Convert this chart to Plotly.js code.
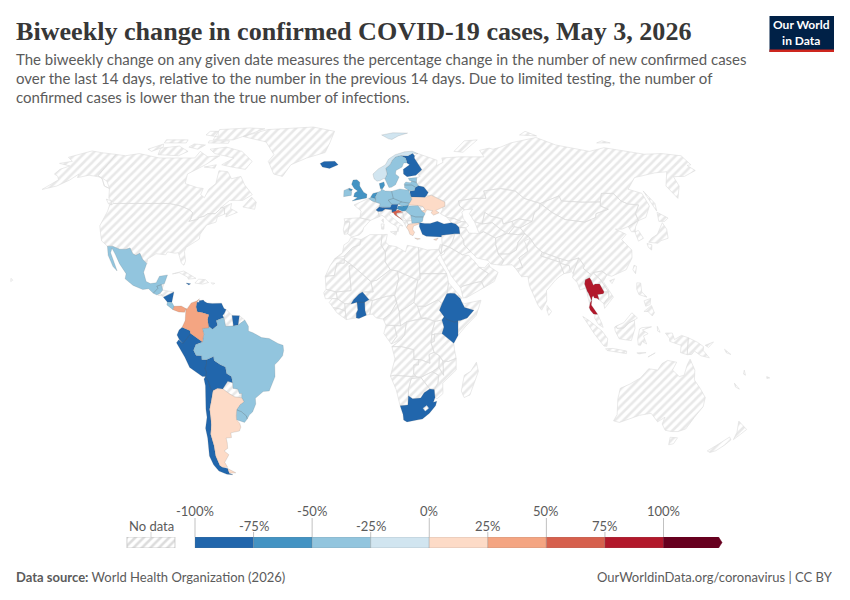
<!DOCTYPE html>
<html><head><meta charset="utf-8"><script src="https://cdn.plot.ly/plotly-3.0.1.min.js"></script>
<style>html,body{margin:0;background:#fff}#c{width:850px;height:600px}</style></head><body><div id="c"></div><script>
// Country outlines: lon,lat pairs
const brazil=[-51.6,4.2,-50,1.8,-50,0,-48,-0.7,-44.3,-2.5,-41,-2.9,-37.2,-4.8,-35,-5.5,-34.8,-7.5,-35.3,-9.5,-37.2,-11.5,-38.9,-13,-39,-17.5,-40.8,-21,-42,-23,-44.7,-23.2,-48.5,-25.8,-48.6,-28,-50.5,-31,-52.2,-32.2,-53.4,-33.7,-53.6,-32.5,-55.6,-30.9,-57.6,-30.2,-55.8,-28.3,-53.8,-27.1,-54.6,-25.6,-54.3,-24,-55.4,-24,-55.9,-22.3,-58,-22,-57.9,-19.9,-58.2,-17.5,-60.2,-16.3,-60.5,-13.8,-62.8,-12.9,-65.3,-11.3,-65.4,-9.8,-68.6,-11,-70.6,-11,-70.6,-9.5,-73,-9.4,-74,-7.4,-72.9,-5.2,-70,-4.3,-69.4,-1.2,-70,1,-67,1.7,-65.5,0.7,-63.4,2.2,-64,4,-60.7,5.2,-59.9,1.8,-56.5,1.9,-54.5,2.3];
const colombia=[-71.7,12.4,-72.9,11.5,-75.2,10.8,-76.9,8.5,-77.4,8.6,-77.3,6.5,-77.5,4,-78.8,1.4,-75.3,0.1,-75.2,-0.9,-73,-2.3,-70,-4.2,-69.4,-1.2,-70,1,-67.2,1.2,-67.8,4.5,-67.3,6.2,-70,7,-72.4,7.4,-73,9.2,-72.8,11];
const venezuela=[-71.7,11,-71.9,11.6,-70,11.9,-69.6,11.4,-68.3,10.8,-66,10.6,-62,10.7,-60.8,8.6,-59.9,8.3,-60.5,6.9,-61.3,5.9,-60.7,5.2,-64,4,-63.4,2.2,-65.5,0.7,-67.2,1.2,-67.8,4.5,-67.3,6.2,-70,7,-72.4,7.4,-73,9.2,-72.8,11];
const ecuador=[-75.3,0.1,-78.8,1.4,-80.1,0.4,-81,-1.5,-80,-3.4,-78.5,-4.8,-75.6,-1.6,-75.2,-0.9];
const peru=[-75.2,-0.9,-75.6,-1.6,-78.5,-4.8,-80.3,-3.4,-81.3,-4.5,-79.7,-7,-78,-10,-76.2,-14,-71,-17.5,-69.6,-17.5,-69,-16,-69.5,-14.5,-68.7,-12.5,-68.6,-11,-70.6,-11,-70.6,-9.5,-73,-9.4,-74,-7.4,-72.9,-5.2,-70,-4.2,-73,-2.3];
const bolivia=[-69.6,-17.5,-69,-16,-69.5,-14.5,-68.7,-12.5,-68.6,-11,-65.4,-9.8,-65.3,-11.3,-62.8,-12.9,-60.5,-13.8,-60.2,-16.3,-58.2,-17.5,-57.9,-19.9,-60,-19.3,-62.6,-22.2,-65,-22.1,-67,-22.9,-68,-22,-68.6,-19.3];
const chile=[-69.6,-17.5,-70.4,-18.4,-70.1,-21,-70.6,-25,-71.5,-30,-71.7,-33,-73.5,-37.2,-73.7,-41,-74.5,-45,-75.5,-48,-75,-51.5,-73.5,-54,-70,-55.3,-67,-55.5,-68.6,-54.9,-68.6,-53,-71,-52.5,-72,-51.8,-72.4,-48,-71.7,-44,-71.8,-39.5,-70.5,-36,-70,-33,-69.8,-30,-68.5,-27,-67,-22.9,-68,-22,-68.6,-19.3];
const argentina=[-65,-22.1,-62.6,-22.2,-60,-24,-57.6,-25.3,-54.6,-25.6,-53.8,-27.1,-55.8,-28.3,-57.6,-30.2,-58.2,-32.5,-58.4,-34,-57.2,-35.3,-57,-36.8,-58,-38.3,-62.2,-39,-62.4,-40.8,-65,-41,-65,-42.8,-65.5,-45,-67.5,-46,-65.8,-47.5,-69,-50.5,-68.4,-52.5,-71,-52.5,-72,-51.8,-72.4,-48,-71.7,-44,-71.8,-39.5,-70.5,-36,-70,-33,-69.8,-30,-68.5,-27,-67,-22.9];
const fuego=[-68.6,-53,-65.2,-54.7,-68.6,-54.9];
const uruguay=[-57.6,-30.2,-55.6,-30.9,-53.6,-32.5,-53.4,-33.7,-54.9,-35,-58.4,-34,-58.2,-32.5];
const suriname=[-57.2,6,-54,5.9,-54.5,2.3,-56.5,1.9];
const mexico=[-117.1,32.5,-114.8,32.5,-111,31.3,-108.2,31.3,-106.5,31.8,-104.5,29.6,-103,29,-101.4,29.8,-99.5,27.5,-97.2,25.9,-97.8,22.5,-96,19,-94,18.2,-91.5,18.5,-90.5,21,-87,21.5,-87.8,18.2,-89.1,17.9,-91,17.2,-90.4,16.4,-92.2,14.5,-94.5,16.2,-97,15.9,-101.5,17.5,-105.5,20,-105.5,22,-109.4,25.8,-112.5,29.5,-114.7,31.7,-114.7,30,-109.7,23,-112,24.7,-115.5,29];
const guatemala=[-92.2,14.5,-90.4,16.4,-91,17.2,-89.1,17.8,-88.2,15.7,-89.2,14.5,-90.5,13.8];
const nicaragua=[-87.6,13,-83.2,15,-83.7,11,-85.7,11.1];
const costaRica=[-85.7,11.1,-83.7,11,-82.6,9.5,-83,8.2,-85.8,10];
const panama=[-83,8.2,-82.6,9.5,-79.5,9.6,-77.4,8.6,-77.9,7.2,-80.4,7.3];
const jamaica=[-78.3,18.4,-76.2,18.1,-77,17.7];
const germany=[7.2,53.5,8.8,54,9,54.9,11,54,14.2,53.9,14.8,51,12.2,50.3,13.8,48.7,13,47.5,7.6,47.6,8.2,48.9,6,49.5,6,51.8];
const denmark=[8.1,57,10.6,57.7,10.9,56.3,9.7,54.9,8.6,54.9];
const netherlands=[3.4,51.4,4.7,53,7.2,53.5,6,51.8,6,50.8,4.2,51.4];
const belgium=[2.5,51,4.2,51.4,6,50.8,5.8,49.5,4.2,50];
const poland=[14.2,53.9,18.5,54.8,23,54.3,24,50.6,22.8,49.1,19,49.5,14.8,51];
const czechia=[12.2,50.3,14.8,51,18.8,49.6,17,48.7,13.8,48.7];
const slovakia=[17,48.7,18.8,49.6,22.5,49.1,22.1,48.4,18.8,47.9];
const austria=[9.6,47.4,13,47.5,13.8,48.7,17,48.7,16.2,46.9,13.7,46.5,10.5,46.8];
const switzerland=[6,46.4,7.6,47.6,9.6,47.4,10.5,46.8,9,45.9,7,45.8];
const slovenia=[13.7,46.5,16.2,46.9,15.5,45.6,13.7,45.5];
const hungary=[16.2,46.9,17,48,18.8,47.9,22.1,48.4,21,46.2,18.8,45.9];
const croatia=[13.7,45.5,15.5,46,16.8,46.4,19,45.5,16,45.2,15.8,44.5,18.5,42.5,15,44.5,14.5,45.2];
const romania=[20.3,46.1,22.1,48,26.6,48.2,28.2,46,29.7,45,28.6,43.7,25,43.7,22.7,44.3];
const bulgaria=[22.7,44.3,25,43.7,28.6,43.7,28,42,26.3,41.3,22.9,41.3];
const greece=[20.2,39.6,21,40.8,26.3,41.5,26,40.9,23.5,40.2,23,38.8,23.8,37.8,22.9,36.5,21.5,37,21,38.5];
const crete=[23.6,35.6,26.2,35.3,24.8,35];
const ukraine=[22.1,48.4,22.8,49.1,24,50.6,24,51.6,30.5,51.4,34,52.3,40.1,49.6,39.8,47.9,35,46.2,36.5,45.3,33.6,44.4,32.5,45.4,33.5,46.1,30.7,46.5,29.7,45.3,28.2,46,30,46.4,29,47.8,26.6,48.2];
const belarus=[23.5,53.9,25.8,54.2,26.6,55.5,28.2,56.1,30.9,55.6,32.7,53.4,31.5,52.1,30.5,51.4,24,51.6,23.5,52];
const lithuania=[21,55.3,21.1,56.4,25,56.4,26.6,55.5,25.8,54.2,23.5,54];
const latvia=[21,56.8,22,57.7,24.4,57.3,25,58,27.5,57.5,28.2,56.1,26.6,55.5,25,56.4,21.1,56.4];
const estonia=[23.5,59.2,28,59.5,27.5,57.5,25,58,24,58.3];
const finland=[21,69.1,25,68.9,28,70.1,28.9,69,28.5,68,30,65.5,31.5,62.8,27.8,60.5,23,59.9,21.3,61,21.5,63,25.3,65,24,65.8,23.7,67.9];
const sweden=[11.2,59,13,55.4,14.3,55.5,16.5,56.5,18.8,59.8,17,61,17.5,62.5,21,64,22.2,65.8,24,65.8,23.7,67.9,21,69.1,18,68.5,16,67,14.5,65,12,63.5,12.5,61];
const norway=[5,61,5.5,59,7,58,8.5,58.2,10.8,59.2,11.2,59,12.5,61,12,63.5,14.5,65,16,67,18,68.5,21,69.1,25,68.9,28,70.1,31,70,28,71.1,23.5,70.8,18,69.5,14,67.5,12,65,8,63.2];
const svalbard=[11,79,15,77,17,76.7,21,78.5,27,80,18,80.2];
const iceland=[-24,65.5,-22,66.4,-16,66.5,-14,65,-18.5,63.4,-22.5,64];
const britain=[-5.7,50,1.5,51.2,1.7,52.7,0,53.5,-2,56,-2,57.6,-3.5,58.6,-5.5,58.5,-6.2,56.7,-4.8,55,-3,54,-4.5,53.2,-5,51.7,-3,51.4];
const ulster=[-7.4,55.1,-5.6,54.6,-6.2,54,-7.8,54.3];
const ireland=[-10,51.7,-6.2,52.2,-6,53.8,-7.8,54.3,-7.4,55.1,-10,54.2];
const cyprus=[32.3,35,34.5,35.6,33.5,34.7];
const turkey=[26.2,40,26.5,41.5,29,41.2,31.5,41.2,35,42,38,41,41.5,41.5,43.5,41,44.8,39.7,44.8,37.2,42.4,37.2,38,36.8,36.2,36.7,36,36,32,36.1,29,36.3,27.3,37];
const ghana=[-3.2,5,-2,4.8,1.2,6.1,0.6,8,0.5,11,-2.9,11,-2.5,8.1,-3.2,6.8];
const burkina=[-5.5,10.4,-4.4,12,-2,14.2,-0.5,15,2.4,12,0.9,11,0.5,11,-2.9,11];
const ethiopia=[33,8,34.2,10.5,36.5,14.3,38,14.5,40,14.4,42.3,12.5,42.9,11,44,9,48,8,45,5,42,4,41,3.9,39.5,3.4,36,4.5,35,5.5];
const kenya=[34,4.2,35,5.5,36,4.5,39.5,3.4,41,3.9,41,-1.7,39.2,-4.7,37.7,-3.6,34,-1,34.9,1.5];
const southAfrica=[16.5,-28.6,20,-28.4,20,-24.8,22,-26,25.6,-25.7,27,-23.7,29.4,-22.2,31.4,-22.4,32,-25.5,31.4,-27.3,32.9,-26.9,32.5,-28.6,30,-31.5,27,-33.7,25,-34,20,-34.8,18.4,-34.1,18,-32];
const thailand=[98,19.7,100,20.4,100.6,19.5,101.2,17.6,102,18,104,18,105.5,15,105,14.3,102.5,14,102.9,12,102,12.6,100.9,12.7,100.5,13.5,100,13,99.3,10,100.4,8.5,101.8,6.4,100.7,6.4,100,6.5,98.7,8,98.3,9,99,11,99.6,11.7,98.6,14.5,98.2,15.1,97.4,18];

// No-data outlines
const paraguay=[-57.9,-19.9,-58,-22,-55.9,-22.3,-55.4,-24,-54.3,-24,-54.6,-25.6,-57.6,-25.3,-60,-24,-62.6,-22.2,-60,-19.3];
const guyana=[-60.7,5.2,-60.5,6.9,-59.9,8.3,-57.2,6,-56.5,1.9,-59.9,1.8];
const frGuiana=[-54,5.9,-51.6,4.2,-54.5,2.3];
const belize=[-89.1,17.9,-88,18.4,-88.5,16,-89.1,16];
const honduras=[-88.2,15.7,-83.2,15,-84.7,14.5,-87.6,13,-89.2,14.5];
const elSalvador=[-89.2,14.4,-87.7,13.5,-90,13.7];
const cuba=[-84.9,21.9,-80,23,-74.2,20.2,-77.5,19.9,-78,20.7,-82,22.4];
const hispaniola=[-74.4,18.4,-73,19.9,-69.9,19.7,-68.4,18.6,-71,18];
const puertoRico=[-67.2,18.5,-65.6,18.3,-66.5,17.9];
const usa=[-124.7,48.4,-123,49,-95.2,49,-94.6,48.7,-89.6,48,-84.5,46.5,-82.5,45.3,-82.4,43,-83,42,-79,42.8,-79,43.4,-76.5,44,-75,45,-71.5,45,-69.2,47.4,-67.8,47.1,-67,44.8,-70,43.7,-70,41.7,-74,40.6,-75.5,38,-76,37,-75.8,35.2,-78,33.9,-81,32,-81.4,30.5,-80,26.8,-80.4,25.2,-81.7,26,-82.8,28,-84,30,-85.5,29.8,-89,30.3,-89.5,29.2,-94,29.6,-97.2,27.6,-97.2,25.9,-99.5,27.5,-101.4,29.8,-103,29,-104.5,29.6,-106.5,31.8,-108.2,31.3,-111,31.3,-114.8,32.5,-117.1,32.5,-120.6,34.5,-122.5,37.5,-124.3,40.3,-124,46];
const alaska=[-141,69.6,-141,60.3,-137.5,59,-133.5,56,-130,55,-134,58,-139,59.7,-146,60.5,-151,59.5,-152,60.9,-154,58.5,-158,56,-164,54.6,-160,58.6,-162,60,-165,61,-164.5,63,-161,64.5,-168,65.6,-162,66.5,-166.5,68.3,-156.5,71.2,-150,70.4];
const hawaii=[-156,20.2,-155,19.5,-155.8,19];
const canada=[-141,69.6,-135,69,-128,70,-115,68,-108,68,-95,68,-94,71,-88,68.5,-81.5,69,-87,65,-94,61,-92.5,57,-85,55.3,-82,55,-82,52.5,-79.5,51.3,-79,54.7,-76.6,57,-78,62.4,-73,62,-69.5,59,-65,60,-61.5,56.5,-56,52.5,-60,50.2,-66.5,50.2,-70,47,-65,49,-64.8,47,-61,45.5,-66,43.7,-66,45,-67,44.8,-67.8,47.1,-69.2,47.4,-71.5,45,-75,45,-76.5,44,-79,43.4,-79,42.8,-83,42,-82.4,43,-82.5,45.3,-84.5,46.5,-89.6,48,-94.6,48.7,-95.2,49,-123,49,-127,51,-130,55,-133.5,56,-137.5,59,-141,60.3];
const baffin=[-80,73,-70,71,-62,66.5,-64,63,-72,64,-78,65,-73,68,-85,70,-89,72];
const victoria=[-117,69.5,-105,69,-101,71,-108,73.5,-118,72.5];
const banks=[-125,72,-118,74.5,-117,73,-122,71];
const ellesmere=[-90,76.5,-78,76.5,-62,82.5,-72,83,-90,82];
const devon=[-92,75,-80,74.8,-80,76,-92,76];
const melville=[-118,75,-105,75,-105,76.5,-118,76.5];
const princeWales=[-102,73,-96,72,-93,74,-100,74.5];
const axelHeiberg=[-96,79,-88,78,-90,81,-95,81];
const newfoundland=[-59,47.6,-53,46.7,-53,49.5,-56,51.5];
const southampton=[-87,64,-81,63.5,-81,65];
const vancouverI=[-128,50.7,-125,50,-123.5,48.4,-125.5,48.8];
const greenland=[-73,78.2,-60,82,-32,83.6,-18,81,-20,75,-22,70.5,-32,68,-40,65,-43,60,-48,61,-53,66.5,-51,69.5,-58,75.5];
const spain=[-9.3,43,-1.8,43.4,3.2,42.4,0,39.5,-0.5,38,-2,36.8,-5.5,36,-7.4,37.2,-6.5,41.8,-8.9,41.8];
const portugal=[-8.9,41.8,-6.5,41.8,-7.4,37.2,-9,37,-9.5,38.7];
const france=[-1.8,43.4,3.2,42.4,7.5,43.8,7,45.8,6,46.4,7.6,47.6,8.2,48.9,5.8,49.5,4.2,50,2.5,51,-1.5,49.7,-4.7,48.4,-1.2,46];
const italy=[7.5,43.8,7,45.8,9,45.9,10.5,46.8,13.7,46.5,13.7,45.6,12.3,44.5,16,41.8,18.5,40.2,16.9,40.5,16,38,15.7,40,12.3,41.7,10.2,43.5,8.8,44.4];
const sicily=[12.5,38,15.6,38.2,15,36.7];
const sardinia=[8.3,41,9.7,41,9.5,39,8.5,39];
const corsica=[8.6,42.5,9.4,43,9.4,41.5];
const serbia=[19,45.5,21,46.2,22.7,44.3,22.9,42.3,20.5,42.2,19.2,43.5];
const bosnia=[16,45.2,19,45,19.2,43.5,18.5,42.5,15.8,44.5];
const albania=[18.5,42.5,20.5,42.2,21,40.8,20.2,39.6,19.4,41];
const macedonia=[20.5,42.2,22.9,42.3,22.9,41.3,21,40.8];
const moldova=[26.6,48.2,29,47.8,30,46.4,28.2,46];
const morocco=[-5.9,35.8,-1.2,35,-1.7,33,-5,32,-8.7,28.7,-13,27.7,-9.6,30,-9,33,-6.9,34.1];
const wSahara=[-13,27.7,-8.7,27.7,-8.7,26,-12,26,-13,21.3,-17,21,-15,25];
const algeria=[-1.2,35,3,36.9,8.6,36.9,8,33,9.9,30.2,9.7,26.5,11.9,23.5,5.8,19.5,3.2,19,-4.9,25,-8.7,27.3,-8.7,28.7,-5,32,-1.7,33];
const tunisia=[8.6,36.9,11,37,10.2,34,11.5,32.8,9.9,30.2,8,33];
const libya=[11.5,32.8,15,32.3,19,30.3,20,32.8,25,32,25,20,24,19.5,15,23,11.9,23.5,9.7,26.5,9.9,30.2];
const egypt=[25,32,29,31,34.2,31.3,34.8,29.5,33,28,36.9,22,25,22];
const sudan=[36.9,22,37.5,18.5,36.5,14.3,34.2,10.5,32.5,12,27,9.5,23.5,9.5,22,11,22.8,15.5,24,19.5,25,20,25,22];
const southSudan=[23.5,9.5,27,9.5,32.5,12,34.2,10.5,33,8,35,5.5,34,4.2,31,3.7,28,4.5,25,5];
const eritrea=[36.5,14.3,37.5,18.5,43,12.5,40,14.4,38,14.5];
const somalia=[42.9,11,44,10.5,51.3,11.8,49,6,44,1.5,41,-1.7,41,3.9,42,4,45,5,48,8,44,9];
const mauritania=[-17,21,-13,21.3,-12,26,-8.7,26,-8.7,27.3,-4.9,25,-6.5,25,-5.5,15.5,-12,15,-16.5,16];
const mali=[-12,15,-5.5,15.5,-6.5,25,-4.9,25,3.2,19,4.2,15,-0.5,15,-2,14.2,-4.4,12,-5.5,10.4,-8.2,10.5,-11.5,12.4];
const niger=[4.2,15,3.2,19,5.8,19.5,11.9,23.5,15,23,15.5,20,13.6,13.7,10,13.3,3.8,11.7,2.4,12,-0.5,15];
const chad=[15,23,24,19.5,22.8,15.5,22,11,18.6,9,15.5,7.5,14,12,13.6,13.7,15.5,20];
const nigeria=[2.7,6.4,3.8,11.7,10,13.3,13.6,13.7,14.5,11,11.5,6.5,8.5,4.6,5.5,5,4,6.4];
const benin=[1.2,6.1,2.7,6.4,3.8,11.7,2.4,12,0.9,11,0.5,11,0.6,8];
const senegal=[-17.5,14.7,-16.5,16,-12,15,-11.5,12.4,-16.7,12.4];
const guinea=[-15,11,-13.7,12.5,-11.5,12.4,-8.2,10.5,-8,7.7,-10.3,8.5,-13.3,9];
const liberia=[-13.3,9,-10.3,8.5,-8,7.7,-7.5,4.4,-11.5,6.9];
const ivoryCoast=[-8,7.7,-8.2,10.5,-5.5,10.4,-2.9,11,-2.5,8.1,-3.2,6.8,-3.2,5,-7.5,4.4];
const cameroon=[8.5,4.6,11.5,6.5,14.5,11,14,12,15.5,7.5,16,2,9.7,2.2];
const car=[15.5,7.5,18.6,9,22,11,23.5,9.5,25,5,27.3,5,22,4.2,18.6,3.5,16,2];
const gabon=[9.7,2.2,13.3,2.2,14.5,-2,12,-5,8.8,-1];
const congo=[16,2,18.6,3.5,17.8,-1.5,16,-3.5,12,-5,14.5,-2,13.3,2.2];
const drc=[18.6,3.5,22,4.2,27.3,5,31,3.7,29.6,-0.5,29.3,-4.5,30.7,-8.2,28.5,-9,29,-12.4,25,-11,22,-11,21.8,-7.2,16.5,-6,12.3,-6,16,-3.5,17.8,-1.5];
const uganda=[31,3.7,34,4.2,34.9,1.5,34,-1,29.6,-1.4,29.6,-0.5];
const burundi=[29.3,-4.5,29.6,-1.4,30.8,-1.4,30.7,-4];
const tanzania=[30.8,-1,34,-1,37.7,-3.6,39.2,-4.7,39.5,-7,40.4,-10.5,37,-11.7,34.6,-11.5,33,-9.5,30.7,-8.2,29.3,-4.5,30.7,-4];
const angola=[12.3,-6,16.5,-6,21.8,-7.2,22,-11,24,-11,24,-13,22,-13,22,-16.5,23.4,-17.6,13.5,-17,11.8,-17.3,13.7,-10.7];
const zambia=[24,-11,25,-11,29,-12.4,28.5,-9,30.7,-8.2,33,-9.5,33,-14,30.2,-15.6,28,-16.5,25.2,-17.8,23.4,-17.6,22,-16.5,22,-13,24,-13];
const namibia=[11.8,-17.3,13.5,-17,23.4,-17.6,25.2,-17.8,21,-18.3,20,-22,20,-28.4,16.5,-28.6,14.5,-22.5];
const botswana=[20,-24.8,20,-22,21,-18.3,25.2,-17.8,29.4,-22.2,27,-23.7,25.6,-25.7,22,-26];
const zimbabwe=[25.2,-17.8,28,-16.5,30.2,-15.6,33,-17,32.9,-20,31.4,-22.4,29.4,-22.2];
const mozambique=[30.2,-15.6,33,-14,35.2,-17,35,-14.5,34.6,-11.5,37,-11.7,40.4,-10.5,40.6,-15,35,-20,35.4,-24,32.9,-26,32,-25.5,31.4,-22.4,32.9,-20,33,-17];
const malawi=[33,-9.5,34.6,-11.5,35,-14.5,35.2,-17,33,-14];
const lesotho=[27,-29.6,28.5,-28.6,29.4,-29.6,28,-30.6];
const madagascar=[49.3,-12,50.4,-15.5,47.5,-24.5,45,-25.5,43.5,-23,44.3,-17,47,-15.5];
const russia=[30,69.5,31,70,41,67,40,64.6,44,66,44,68,54,68.5,68,68.5,67,71.5,73,72.5,75,72,80,73,87,75,104,77.7,113,74,130,71,140,72.7,160,69.7,170,70,180,69,180,65,177.5,64.7,179,62.5,170,60,164,59.9,162.5,56,156.7,51,155.7,56,163,62,156,61.5,143,59.5,135,54.7,140.5,53,140,48,135,43.5,130.7,42.3,131,45,135,48.4,130,48.8,127.5,50,126,53,120,53,117,49.6,108,49.5,98,50,98,52,87,49,80,51,77,54,70,55,61,54,61,51,55,51,47,50,47,48,49,46.5,47.5,45.6,47.6,43,48.5,41.8,46.5,41.9,43.5,43,40,43.5,37,45,39,47.2,38.2,47.1,39.8,47.9,40.1,49.6,34,52.3,31.5,52.1,32.7,53.4,30.9,55.6,28.2,56.1,27.5,57.5,28,59.5,30,60,29,60.7,31.5,62.8,30,65.5,28.5,68,28.9,69];
const sakhalin=[142,54,143.5,49,142,46,142,50];
const novaya=[52,71,57,70.6,68,76.5,60,76];
const severnaya=[95,79,105,78.5,100,81];
const newSiberia=[138,75,146,75,142,76];
const kazakhstan=[47,50,55,51,61,51,61,54,70,55,77,54,80,51,87,49,85.5,47,82.5,45.5,80,42,74,43,70.5,42,66,41,66,43,61,44,58.5,45.5,56,41,52.5,42,51,45,53,46.8,49,46.5,47,48];
const uzbekistan=[56,41,58.5,45.5,61,44,66,43,66,41,70.5,42,71,40,67.5,37.3,64,39,61,41.5];
const turkmenistan=[52.7,41.7,56,41,61,41.5,64,39,66.5,37.3,61,35.6,56,38,53.8,37.3,53,40];
const kyrgyzstan=[70.5,42,74,43,80,42,73.5,39.5,70,40];
const tajikistan=[67.5,37.3,71,40,73.5,39.5,75,37.2,71.5,36.9,68,37];
const afghanistan=[61,35.6,66.5,37.3,71.5,36.9,74.9,37.3,71,34,69.5,31,66,29.5,61,29.5,60.5,33];
const pakistan=[61,29.5,66,29.5,69.5,31,71,34,74.9,37.3,77,35.5,74.5,32,74.5,30.5,70,28,71,24.4,68,23.7,66.5,25.4,61.6,25.2,63,27];
const iran=[44.8,39.7,48,39.5,49,37.5,53.8,37.3,56,38,61,35.6,60.5,33,61,29.5,63,27,61.6,25.2,57,25.7,56,27,51,28,48.7,30.3,46,33,46,35,44.8,37.2];
const iraq=[42.4,37.2,44.8,37.2,46,35,46,33,48.7,30.3,47.5,30,44.7,29.2,39,32.2,41,34.5];
const syria=[36.2,36.7,42.4,37.2,41,34.5,39,32.2,36,33];
const israel=[34.2,31.3,35.1,33.2,36,33,35,29.5];
const jordan=[35,29.5,36,33,39,32.2,37,31];
const saudi=[34.8,29,36.5,29.5,37,31,39,32.2,44.7,29.2,47.5,29,48.5,28,50,26.5,51.5,24.5,55.5,22,52,19,49,18.5,43.5,17.2,42.7,16.5,39,21,36.5,26];
const yemen=[42.7,16.5,43.5,17.2,49,18.5,52,19,53,16.7,45,12.8,43.5,12.7];
const oman=[51.5,24.5,54,24.2,56,26,56.5,24.5,59.8,22.5,57.7,19,53,16.7,52,19,55.5,22];
const georgia=[40,43.5,43.5,43,46.5,41.9,43.5,41,41.5,41.5];
const azerbaijan=[43.5,41,46.5,41.9,48.5,41.8,49.5,40.3,48,39.5,44.8,39.7];
const india=[74,34.5,77,35.5,78.5,32.5,81,30.2,80,28.8,88,26.4,88,27.9,92,26.8,97,28,94.5,24.3,93,22,92,24,92,25,88,26,89,22,87,21,85,19.7,80.3,15.5,80,11.5,77.5,8,76,10,73,17.5,72.8,21,70,20.8,69,22.5,68,23.7,71,24.4,70,28,74.5,30.5,74.5,32.5];
const nepal=[80,28.8,81,30.2,88,27.9,88,26.4];
const bangladesh=[88,26,92,25,92,22.5,90,22,89,22];
const sriLanka=[80,9.8,81.8,7.5,80.5,6,79.8,8];
const myanmar=[92.5,20.5,94,24,94.5,24.3,97,28,98.7,25,98,24,101,21.5,100,20.4,98,19.7,97.4,18,98.2,15.1,98.6,14.5,99.6,11.7,98.7,10,97.7,16.5,95,15.8,94.3,18.5];
const laos=[100,20.4,101,21.5,102,22.4,104.9,19.5,107.5,15,105.5,15,104,18,102,18,101.2,17.6,100.6,19.5];
const vietnam=[102,22.4,106,23,108,21.5,105.8,19,109.3,13,107,10.5,105,8.7,104.8,10.5,107.3,13,107.5,15,104.9,19.5];
const cambodia=[102.5,14,105,14.3,105.5,15,107.5,15,107.3,13,104.8,10.5,102.9,12];
const malaya=[100.7,6.4,101.8,6.4,103.4,3,104,1.4,102,2.5,100.4,5];
const china=[74,39,73.5,39.5,80,42,82.5,45.5,85.5,47,87,49,91,45.5,96,42.7,105,41.7,111,43.5,112,45,119,46.7,116,48,117,49.6,120,53,126,53,127.5,50,130,48.8,135,48.4,131,45,130.7,42.3,124.5,40,121,39,118,39,122,37,119,35,122,31,121,28,117,23.5,110,21,108,21.5,106,23,102,22.4,101,21.5,98,24,98.7,25,97,28,92,26.8,88,27.9,81,30.2,78.5,32.5,77,35.5,74.9,37.3,75,37.2];
const mongolia=[87,49,91,45.5,96,42.7,105,41.7,111,43.5,112,45,119,46.7,116,48,117,49.6,108,49.5,98,50,98,52];
const northKorea=[124.5,40,130.7,42.3,128,40,126.7,38,125,38];
const southKorea=[126.7,38,128.5,38.5,129.3,35.5,126.5,34.4,126.5,37];
const honshu=[131,34,133,35.5,136.5,37,140,40,141.5,41.5,142,39,140.7,35.5,137,34.6,135,33.6];
const hokkaido=[140.2,42,141.8,45.5,145.5,43.3,143,42];
const kyushu=[130,33.5,132,33,131,31,130,32];
const taiwan=[121,25.2,122,24.8,120.8,22,120,23.5];
const hainan=[108.7,19.3,111,20,109.5,18.2];
const luzon=[120.5,18.5,122.2,18.4,122,15,124,13,120.6,14,120,16];
const mindanao=[122,7.5,125.5,9.8,126.5,7,125.5,5.8,123.8,7.5];
const visayas=[122.5,11.6,125.5,12.5,125,10.2,123,9.5];
const sumatra=[95.3,5.6,98,4,103.5,0,106,-3,105.8,-5.9,104.5,-5.8,100.5,-1.5,97.5,2.5];
const java=[105.3,-6.8,108.5,-6.7,114.5,-7.7,114.5,-8.7,106,-7.5];
const sarawak=[109.6,1.9,111.5,2.8,113,3.2,116.7,7,119,5,117.6,4.2,115,3,113,1.2,110,1];
const kalimantan=[109,1.5,109.6,1.9,110,1,113,1.2,115,3,117.6,4.2,117.8,1,116.3,-3.7,114,-3.4,111,-3,109.2,0];
const sulawesi=[119.8,0.8,120.9,1.3,125,1.6,121,0.4,123.5,-1,121.5,-1.9,123,-5,121,-4,120.4,-5.5,119.4,-5.4,119,-3];
const westPapua=[131,-0.8,134,-0.8,135,-3.3,138,-1.7,141,-2.6,141,-9.1,138,-8.3,138,-5.5,133,-4,132.8,-2.8];
const png=[141,-2.6,145,-4.3,147.8,-6,147.8,-7.5,150.8,-10.3,147,-9.5,144,-7.7,143,-9,141,-9.1];
const timor=[124,-10,127,-8.4,125,-9.6];
const flores=[119,-8.4,123,-8.3,120,-8.8];
const halmahera=[127.5,1.8,128.7,-0.5,127.6,0];
const newBritain=[148.5,-5.5,152,-4.2,150,-6.3];
const solomons=[157,-7,160,-9,158,-8.4];
const vanuatu=[167,-15,168,-17,167,-16.5];
const caledonia=[164,-20,167,-22.3,165,-21.5];
const fiji=[177.5,-17.5,179,-18,177.8,-18.2];
const australia=[114,-22,114,-26,115.7,-32,115,-34.4,118,-35,124,-33,126,-32.3,131,-31.5,135.5,-34.8,138,-33,138,-35.6,140.7,-38,144,-38.5,147,-38.5,150,-37.5,151.5,-33,153.5,-29,153,-25.5,149.5,-22,146,-18.8,145.3,-15,142.5,-10.8,141.6,-13,141,-17,139,-17.5,135.5,-15,136.8,-12,132.7,-11.3,130.5,-12.5,129,-15,125,-14.5,122,-18,118,-20.3];
const tasmania=[144.7,-40.7,148.3,-40.9,148,-43.2,146,-43.6];
const nzNorth=[172.7,-34.5,178.5,-37.7,177,-39.6,175.3,-41.6,174.8,-38.8];
const nzSouth=[172.7,-40.6,174.2,-41.7,172.8,-43.8,170.6,-45.9,168.3,-46.6,166.5,-46,170,-43];

const mappedShapes=[brazil,colombia,venezuela,ecuador,peru,bolivia,chile,argentina,fuego,uruguay,suriname,mexico,guatemala,nicaragua,costaRica,panama,jamaica,germany,denmark,netherlands,belgium,poland,czechia,slovakia,austria,switzerland,slovenia,hungary,croatia,romania,bulgaria,greece,crete,ukraine,belarus,lithuania,latvia,estonia,finland,sweden,norway,svalbard,iceland,britain,ulster,ireland,cyprus,turkey,ghana,burkina,ethiopia,kenya,southAfrica,thailand];
const mappedChange=[-35,40,-85,-85,-85,-85,-85,12,12,-35,-85,-35,-35,-85,-35,40,-85,-35,-60,-60,-45,-35,-35,-35,-85,-85,-85,-60,60,-35,-35,12,12,12,-85,-35,-35,-35,-85,-35,-12,-12,-85,-60,-60,-35,12,-85,-85,-85,-85,-85,-85,90];
const noDataShapes=[paraguay,guyana,frGuiana,belize,honduras,elSalvador,cuba,hispaniola,puertoRico,usa,alaska,hawaii,canada,baffin,victoria,banks,ellesmere,devon,melville,princeWales,axelHeiberg,newfoundland,southampton,vancouverI,greenland,spain,portugal,france,italy,sicily,sardinia,corsica,serbia,bosnia,albania,macedonia,moldova,morocco,wSahara,algeria,tunisia,libya,egypt,sudan,southSudan,eritrea,somalia,mauritania,mali,niger,chad,nigeria,benin,senegal,guinea,liberia,ivoryCoast,cameroon,car,gabon,congo,drc,uganda,burundi,tanzania,angola,zambia,namibia,botswana,zimbabwe,mozambique,malawi,madagascar,russia,sakhalin,novaya,severnaya,newSiberia,kazakhstan,uzbekistan,turkmenistan,kyrgyzstan,tajikistan,afghanistan,pakistan,iran,iraq,syria,israel,jordan,saudi,yemen,oman,georgia,azerbaijan,india,nepal,bangladesh,sriLanka,myanmar,laos,vietnam,cambodia,malaya,china,mongolia,northKorea,southKorea,honshu,hokkaido,kyushu,taiwan,hainan,luzon,mindanao,visayas,sumatra,java,sarawak,kalimantan,sulawesi,westPapua,png,timor,flores,halmahera,newBritain,solomons,vanuatu,caledonia,fiji,australia,tasmania,nzNorth,nzSouth];
const enclaveShapes=[lesotho];

// Legend
const binEdges=[-100,-75,-50,-25,0,25,50,75,100,125];
const binColors=['#2166ac','#4393c3','#92c5de','#d1e5f0','#fddbc7','#f4a582','#d6604d','#b2182b','#67001f'];
const tickValues=[-100,-75,-50,-25,0,25,50,75,100];
const tickLabels=['-100%','-75%','-50%','-25%','0%','25%','50%','75%','100%'];

// Text
const titleText='Biweekly change in confirmed COVID-19 cases, May 3, 2026';
const subtitleLines=['The biweekly change on any given date measures the percentage change in the number of new confirmed cases','over the last 14 days, relative to the number in the previous 14 days. Due to limited testing, the number of','confirmed cases is lower than the true number of infections.'];

// Natural Earth projection
function proj(lon,lat){const l=lon*Math.PI/180,p=lat*Math.PI/180,p2=p*p,p4=p2*p2;
 return [l*(0.8707+p2*(-0.131979+p2*(-0.013791+p4*p4*(0.003971-0.001529*p2)))),
         p*(1.007226+p2*(0.015085+p4*(-0.044475+0.028874*p2-0.005916*p4)))];}
function path(shapes){const x=[],y=[];shapes.forEach(s=>{for(let i=0;i<=s.length;i+=2){const j=i%s.length,q=proj(s[j],s[j+1]);x.push(q[0]);y.push(q[1]);}x.push(null);y.push(null);});return {x,y};}
const hatch={shape:'/',size:6,solidity:0.42,fgcolor:'#e8e8e8',bgcolor:'#ffffff'};
function hatched(shapes){const t=path(shapes);return {type:'scatter',mode:'lines',x:t.x,y:t.y,fill:'toself',fillcolor:'#ffffff',fillpattern:hatch,line:{color:'#dcdcdc',width:0.6},hoverinfo:'skip',showlegend:false};}

const traces=[hatched(noDataShapes)];
binColors.forEach((c,b)=>{
 const list=mappedShapes.filter((s,i)=>mappedChange[i]>=binEdges[b]&&mappedChange[i]<binEdges[b+1]);
 if(!list.length)return;const t=path(list);
 traces.push({type:'scatter',mode:'lines',x:t.x,y:t.y,fill:'toself',fillcolor:c,line:{color:'rgba(90,90,90,0.3)',width:0.5},hoverinfo:'skip',showlegend:false});
});
traces.push(hatched(enclaveShapes));
// legend bars on second axes
const mids=binColors.slice(0,8).map((c,i)=>(binEdges[i]+binEdges[i+1])/2);
traces.push({type:'bar',xaxis:'x2',yaxis:'y2',x:mids,y:mids.map(()=>1),width:25,marker:{color:binColors.slice(0,8),line:{color:'rgba(120,120,120,0.5)',width:0.5}},hoverinfo:'skip',showlegend:false});
traces.push({type:'scatter',mode:'lines',xaxis:'x2',yaxis:'y2',x:[100,123.5,125,123.5,100,100],y:[0,0,0.5,1,1,0],fill:'toself',fillcolor:binColors[8],line:{color:binColors[8],width:0.5},hoverinfo:'skip',showlegend:false});
traces.push({type:'bar',xaxis:'x2',yaxis:'y2',x:[-118.8],y:[1],width:[20.5],marker:{color:'#ffffff',pattern:{shape:'/',size:6,solidity:0.42,fgcolor:'#dcdcdc',bgcolor:'#ffffff'},line:{color:'#bdbdbd',width:0.7}},hoverinfo:'skip',showlegend:false});

const W=850,H=600,KX=151.6,KY=148,X0=363.6,Y0=331;
const px=v=>v/W,py=v=>1-v/H;
const grey='#5b5b5b';
const ann=[];
function note(x,y,text,size,anchor,color){ann.push({xref:'paper',yref:'paper',x:px(x),y:py(y),text:text,showarrow:false,xanchor:anchor,yanchor:'middle',font:{family:'Lato',size:size,color:color||grey},borderpad:0});}
subtitleLines.forEach((s,i)=>note(15,59.5+i*18.9,s,15,'left','#5b5b5b'));
tickValues.forEach((v,i)=>{ann.push({xref:'x2',yref:'paper',x:v,y:py(i%2?525.5:511),text:tickLabels[i],showarrow:false,xanchor:'center',yanchor:'middle',font:{family:'Lato',size:13,color:grey}});});
note(151,525.5,'No data',13,'center',grey);
note(15,577,'<b>Data source:</b> World Health Organization (2026)',13,'left',grey);
note(834,577,'OurWorldinData.org/coronavirus | CC BY',13,'right',grey);

const shapes=[
 {type:'rect',xref:'paper',yref:'paper',x0:px(769.5),x1:px(834),y0:py(16),y1:py(52),fillcolor:'#002147',line:{width:0},layer:'below'},
 {type:'rect',xref:'paper',yref:'paper',x0:px(769.5),x1:px(834),y0:py(49.5),y1:py(52),fillcolor:'#ce261e',line:{width:0},layer:'below'}];
tickValues.forEach((v,i)=>shapes.push({type:'line',xref:'x2',yref:'paper',x0:v,x1:v,y0:py(i%2?532:518),y1:py(537),line:{color:'#a6a6a6',width:0.7}}));
shapes.push({type:'line',xref:'paper',yref:'paper',x0:px(151),x1:px(151),y0:py(532),y1:py(537),line:{color:'#c4c4c4',width:0.7}});
note(801.5,32.5,'<b>Our World<br>in Data</b>',12,'center','#ffffff');

const layout={width:W,height:H,margin:{l:0,r:0,t:0,b:0},paper_bgcolor:'#fff',plot_bgcolor:'rgba(0,0,0,0)',showlegend:false,hovermode:false,bargap:0,
 title:{text:titleText,x:px(16),xanchor:'left',xref:'container',y:py(31),yref:'container',yanchor:'middle',font:{family:'Liberation Serif',size:26.1,color:'#373737',weight:700}},
 xaxis:{visible:false,range:[(0-X0)/KX,(W-X0)/KX],fixedrange:true,domain:[0,1]},
 yaxis:{visible:false,range:[(Y0-H)/KY,Y0/KY],fixedrange:true,domain:[0,1]},
 xaxis2:{visible:false,overlaying:'x',anchor:'y2',range:[-100-195/2.3425,-100+(W-195)/2.3425],fixedrange:true},
 yaxis2:{visible:false,anchor:'x2',range:[0,1],domain:[1-548/H,1-537/H],fixedrange:true},
 shapes:shapes,annotations:ann};
Plotly.newPlot('c',traces,layout,{displayModeBar:false,staticPlot:true});
</script></body></html>
